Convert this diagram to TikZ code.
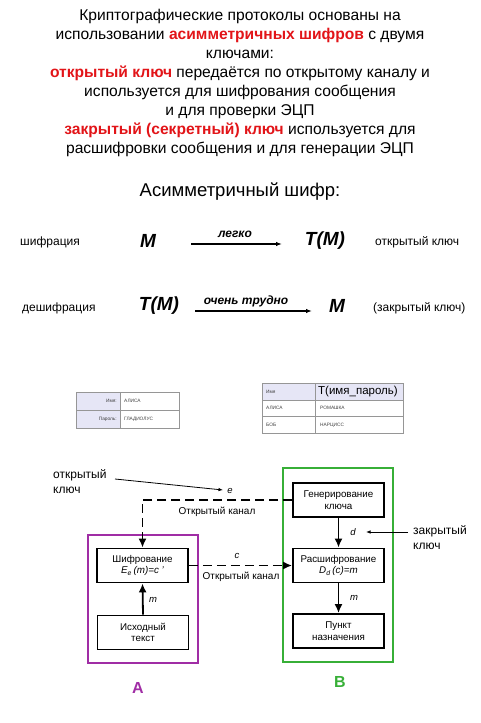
\documentclass[tikz,border=0pt]{standalone}
\usepackage{fontspec}
\setmainfont{Liberation Sans}
\usetikzlibrary{arrows.meta}
\definecolor{keyred}{RGB}{226,20,24}
\definecolor{apurple}{RGB}{160,45,165}
\definecolor{bgreen}{RGB}{55,175,55}
\definecolor{lav}{RGB}{230,230,246}
\definecolor{tgray}{RGB}{150,150,150}
\newcommand{\fs}[2]{\fontsize{#1}{#2}\selectfont}
\begin{document}
\begin{tikzpicture}[x=1pt,y=-1pt,
  txt/.style={inner sep=0pt},
  bigm/.style={inner sep=0pt,font=\fs{19}{22}\bfseries\itshape},
  thinarr/.style={line width=1.6pt,-{Latex[length=6pt,width=4.5pt]}},
  blk/.style={draw,line width=1.8pt,minimum width=91pt,minimum height=34pt,inner sep=1pt,align=center,font=\fs{9.8}{11.5}},
  solidarr/.style={line width=1.8pt,-{Latex[length=9pt,width=8pt]}},
  dsh/.style={line width=1.8pt,dash pattern=on 9pt off 5pt},
  keyarr/.style={line width=0.8pt,-{Latex[length=4.5pt,width=3.5pt]}},
  tcell/.style={inner sep=0pt,font=\fs{4.8}{5},text=black!75},
  lbl/.style={inner sep=0pt,font=\fs{9.5}{10}\itshape}
]
\useasboundingbox (0,0) rectangle (480,723);

% top text
\node[txt,anchor=north,align=center,font=\fs{15.6}{19}] (intro) at (240,8.5) {%
Криптографические  протоколы основаны на\\
использовании  \textcolor{keyred}{\textbf{асимметричных шифров}} с двумя\\
ключами:\\
\textcolor{keyred}{\textbf{открытый ключ}} передаётся по открытому каналу и\\
используется  для шифрования  сообщения\\
и для проверки ЭЦП\\
\textcolor{keyred}{\textbf{закрытый (секретный) ключ}} используется  для\\
расшифровки  сообщения  и для генерации  ЭЦП};

\node[txt,font=\fs{18.5}{20}] (head) at (240,192) {Асимметричный шифр:};

% row 1
\node[txt,anchor=west,font=\fs{12}{14}] (enc1) at (20,242) {шифрация};
\node[bigm] (m1) at (148,241) {M};
\node[bigm] (tm1) at (325,241) {T(M)};
\node[txt,anchor=west,font=\fs{12}{14}] (ok1) at (375,242) {открытый ключ};
\coordinate (a1s) at (191,244);
\coordinate (a1e) at (282,244);
\draw[thinarr] (a1s) -- (a1e);
\node[txt,font=\fs{12}{14}\bfseries\itshape] (easy) at (235,234) {легко};

% row 2
\node[txt,anchor=west,font=\fs{12}{14}] (dec1) at (22,308) {дешифрация};
\node[bigm] (tm2) at (159,306) {T(M)};
\node[bigm] (m2) at (337,306) {M};
\node[txt,anchor=west,font=\fs{12}{14}] (ck1) at (373,308) {(закрытый ключ)};
\coordinate (a2s) at (195,311);
\coordinate (a2e) at (312,311);
\draw[thinarr] (a2s) -- (a2e);
\node[txt,font=\fs{12}{14}\bfseries\itshape] (hard) at (246,301) {очень  трудно};

% left table
\fill[lav] (76,392) rectangle (120,428);
\draw[tgray,line width=0.7pt] (76,392) rectangle (179,428);
\draw[tgray,line width=0.7pt] (120,392) -- (120,428);
\draw[tgray,line width=0.7pt] (76,410) -- (179,410);
\node[tcell,anchor=east] (t1a) at (117,401) {Имя:};
\node[tcell,anchor=west] (t1b) at (124,401) {АЛИСА};
\node[tcell,anchor=east] (t1c) at (117,419) {Пароль:};
\node[tcell,anchor=west] (t1d) at (124,419) {ГЛАДИОЛУС};

% right table
\fill[lav] (262,383) rectangle (403,400);
\draw[tgray,line width=0.7pt] (262,383) rectangle (403,433);
\draw[tgray,line width=0.7pt] (315,383) -- (315,433);
\draw[tgray,line width=0.7pt] (262,400) -- (403,400);
\draw[tgray,line width=0.7pt] (262,416.5) -- (403,416.5);
\node[tcell,anchor=west] (t2a) at (266,391.5) {Имя};
\node[txt,anchor=west,font=\fs{11.5}{12}] (t2b) at (318,391.5) {T(имя\_пароль)};
\node[tcell,anchor=west] (t2c) at (266,408) {АЛИСА};
\node[tcell,anchor=west] (t2d) at (320,408) {РОМАШКА};
\node[tcell,anchor=west] (t2e) at (266,425) {БОБ};
\node[tcell,anchor=west] (t2f) at (320,425) {НАРЦИСС};

% frames A and B
\draw[apurple,line width=1.8pt] (88,535) rectangle (198,663);
\draw[bgreen,line width=1.8pt] (283,468) rectangle (393,662);
\node[txt,font=\fs{16}{18}\bfseries,text=apurple] (la) at (138,688) {A};
\node[txt,font=\fs{16}{18}\bfseries,text=bgreen] (lb) at (340,682) {B};

% boxes
\node[blk] (enc) at (142.5,565.5) {Шифрование\\\textit{E}\textsubscript{\textit{e}}\,\textit{(m)=c '}};
\node[blk] (src) at (143,632.5) {Исходный\\текст};
\node[blk] (gen) at (338.5,500) {Генерирование\\ключа};
\node[blk] (dec) at (338.5,565.5) {Расшифрование\\\textit{D}\textsubscript{\textit{d}}\,\textit{(c)=m}};
\node[blk] (dst) at (338.5,631) {Пункт\\назначения};

% connectors
\draw[dsh,-{Latex[length=9pt,width=8pt]}] (gen.west) -| (enc.north);
\draw[dsh,-{Latex[length=9pt,width=8pt]}] (enc.east) -- (dec.west);
\draw[solidarr] (src.north) -- (enc.south);
\draw[solidarr] (gen.south) -- (dec.north);
\draw[solidarr] (dec.south) -- (dst.north);

\node[lbl] (le) at (230,491) {e};
\node[lbl] (lc) at (237,556) {c};
\node[lbl] (lm1) at (153,600) {m};
\node[lbl] (ld) at (353,532) {d};
\node[lbl] (lm2) at (354,598) {m};
\node[txt,font=\fs{10}{12}] (ch1) at (217,512) {Открытый канал};
\node[txt,font=\fs{10}{12}] (ch2) at (241,577) {Открытый канал};

% key labels
\node[txt,anchor=west,align=left,font=\fs{12}{15}] (okey) at (53,482) {открытый\\ключ};
\coordinate (oks) at (115,479);
\coordinate (oke) at (223,490);
\draw[keyarr] (oks) -- (oke);
\node[txt,anchor=west,align=left,font=\fs{12}{15}] (ckey) at (413,538) {закрытый\\ключ};
\coordinate (cks) at (408,532);
\coordinate (cke) at (366,532);
\draw[keyarr] (cks) -- (cke);
\end{tikzpicture}
\end{document}
